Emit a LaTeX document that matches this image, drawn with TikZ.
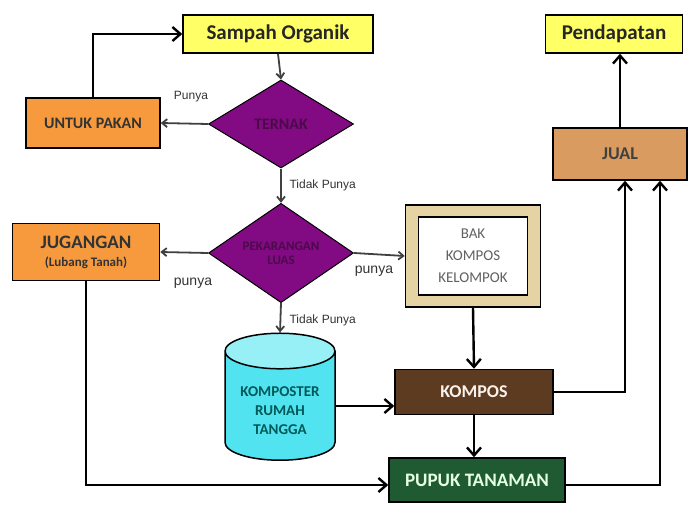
\documentclass[tikz,border=0pt]{standalone}
\usepackage{fontspec}
\setmainfont{Carlito}
\newfontfamily\labelfont{Liberation Sans}
\usepackage{xcolor}
\usepackage{tikz}
\usetikzlibrary{shapes.geometric,arrows.meta}

\definecolor{kuning}{HTML}{FFFF66}
\definecolor{oranye}{HTML}{F79A3E}
\definecolor{ungu}{HTML}{820A82}
\definecolor{unguteks}{HTML}{4A0A4A}
\definecolor{krem}{HTML}{E6D3A3}
\definecolor{sian}{HTML}{52E3F0}
\definecolor{siantop}{HTML}{96F0F6}
\definecolor{coklat}{HTML}{5C3B20}
\definecolor{hijau}{HTML}{1F5A33}
\definecolor{kayu}{HTML}{D99B5F}

\tikzset{
  kotak/.style={draw=black, line width=1.5pt, align=center, inner sep=0pt, font=\bfseries},
  wajik/.style={diamond, draw=black, line width=1pt, fill=ungu, inner sep=0pt,
    minimum width=145pt, minimum height=88pt, align=center, text=unguteks},
  tipis/.style={-{Straight Barb[length=5pt,width=8pt]}, line width=1.8pt, draw=black!75},
  tebal/.style={-{Straight Barb[length=8pt,width=14pt]}, line width=2.4pt},
  ket/.style={font=\labelfont\fontsize{12}{13}\selectfont, text=black!80}
}

\begin{document}
\begin{tikzpicture}[x=1pt,y=-1pt]
      \useasboundingbox (0,0) rectangle (691,506);

      % 頂点の定義
      \node[kotak, fill=kuning, minimum width=190pt, minimum height=38pt,
        font=\bfseries\fontsize{21}{23}\selectfont, text=black!85] (sampah) at (278,34) {Sampah Organik};
      \node[wajik, font=\bfseries\fontsize{16}{18}\selectfont] (ternak) at (281,124) {TERNAK};
      \node[kotak, fill=oranye, minimum width=134pt, minimum height=50pt,
        font=\bfseries\fontsize{16}{18}\selectfont, text=black!80] (pakan) at (93,123) {UNTUK PAKAN};
      \node[wajik, font=\bfseries\fontsize{13}{14}\selectfont] (pekarangan) at (281,253) {PEKARANGAN\\LUAS};
      \node[kotak, fill=oranye, minimum width=147pt, minimum height=57pt, text=black!80] (jugangan) at (86,252)
        {{\fontsize{19}{21}\selectfont JUGANGAN}\\[6pt]{\fontsize{13}{15}\selectfont (Lubang Tanah)}};

      % bak kompos (bingkai ganda)
      \node[kotak, fill=krem, minimum width=135pt, minimum height=102pt] (bak) at (473,256) {};
      \node[kotak, fill=white, line width=1.2pt, minimum width=109pt, minimum height=78pt,
        font=\fontsize{15}{22}\selectfont, text=black!62] (bakin) at (bak.center) {BAK\\KOMPOS\\KELOMPOK};

      \node[cylinder, shape border rotate=90, aspect=0.45, draw=black, line width=1.5pt,
        cylinder uses custom fill, cylinder body fill=sian, cylinder end fill=siantop,
        minimum width=110pt, minimum height=127pt, align=center, inner sep=0pt,
        font=\bfseries\fontsize{15}{19}\selectfont, text=teal!70!black] (komposter) at (280,406)
        {\\KOMPOSTER\\RUMAH\\TANGGA};

      \node[kotak, fill=coklat, minimum width=158pt, minimum height=45pt,
        font=\bfseries\fontsize{18}{20}\selectfont, text=white!90!brown] (kompos) at (474,392) {KOMPOS};
      \node[kotak, fill=hijau, minimum width=176pt, minimum height=44pt,
        font=\bfseries\fontsize{19}{21}\selectfont, text=white!90!green] (pupuk) at (477,480) {PUPUK TANAMAN};
      \node[kotak, fill=kayu, minimum width=134pt, minimum height=52pt,
        font=\bfseries\fontsize{18}{20}\selectfont, text=black!75] (jual) at (620,154) {JUAL};
      \node[kotak, fill=kuning, minimum width=137pt, minimum height=38pt,
        font=\bfseries\fontsize{21}{23}\selectfont, text=black!85] (pendapatan) at (614,34) {Pendapatan};

      % 矢印
      \draw[tipis] (sampah.south) -- (ternak.north);
      \draw[tipis] (ternak.west) -- (pakan.east);
      \draw[tebal] (pakan.north) |- (sampah.west);
      \draw[tipis] (ternak.south) -- (pekarangan.north);
      \draw[tipis] (pekarangan.west) -- (jugangan.east);
      \draw[tipis] (pekarangan.east) -- (bak.west);
      \draw[tipis] (pekarangan.south) -- (komposter.north);
      \draw[tebal] (bak.south) -- (kompos.north);
      \draw[tebal] (komposter.east) -- (komposter.east -| kompos.west);
      \draw[tebal] (kompos.south) -- (kompos.south |- pupuk.north);
      \draw[tebal] (jugangan.south) |- ([yshift=-5pt]pupuk.west);
      \draw[tebal] (kompos.east) -| ([xshift=5pt]jual.south);
      \draw[tebal] ([yshift=-5pt]pupuk.east) -| ([xshift=40pt]jual.south);
      \draw[tebal] (jual.north) -- (jual.north |- pendapatan.south);

      % ラベル
      \node[ket] (l1) at (191,97) {Punya};
      \node[ket, anchor=west] (l2) at (286,185) {Tidak Punya};
      \node[ket, font=\labelfont\fontsize{14}{15}\selectfont] (l3) at (193,283) {punya};
      \node[ket, font=\labelfont\fontsize{14}{15}\selectfont] (l4) at (374,271) {punya};
      \node[ket, anchor=west] (l5) at (286,320) {Tidak Punya};
\end{tikzpicture}
\end{document}
